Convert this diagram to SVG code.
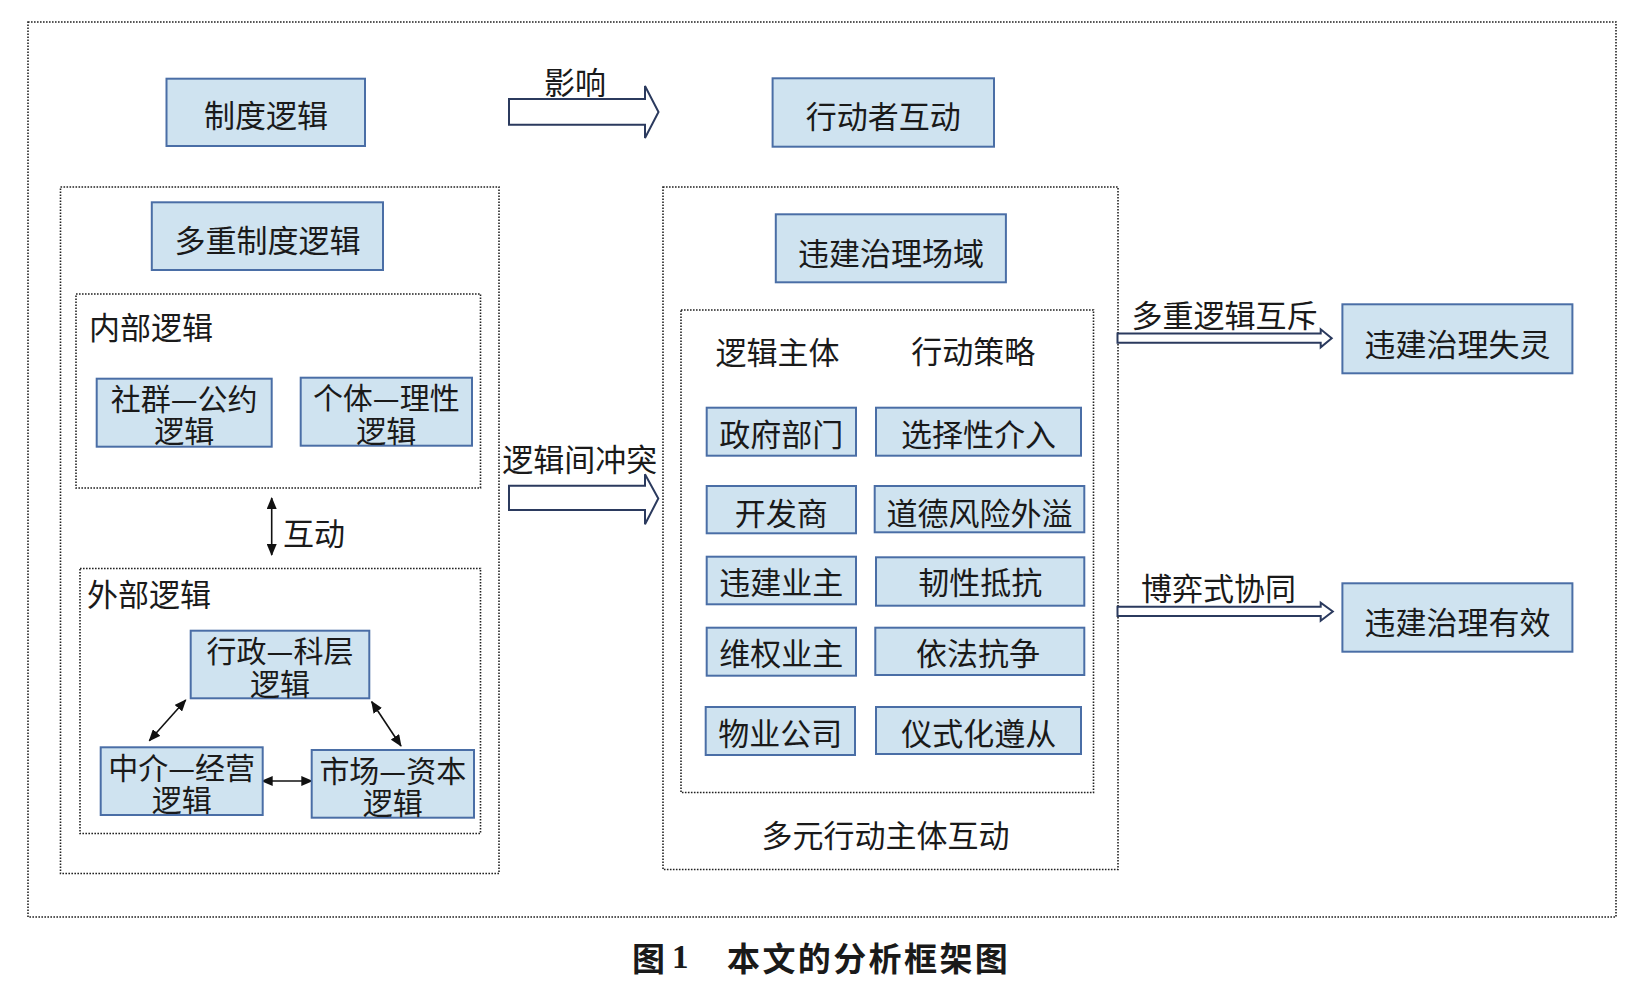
<svg xmlns="http://www.w3.org/2000/svg" width="1640" height="982" viewBox="0 0 1640 982">
<defs>
<style>
.bg{fill:#ffffff}
.dot{fill:none;stroke:#222;stroke-width:1.6;stroke-dasharray:1.6 1.4}
.box{fill:#cfe3f0;stroke:#4a6ea6;stroke-width:2}
.t{font-family:"Noto Sans CJK SC","Noto Sans CJK TC",sans-serif;font-size:31px;fill:#1a1a1a;text-anchor:middle;dominant-baseline:central}
.t2{font-size:30px}
.tl{text-anchor:start}
.blk{fill:#ffffff;stroke:#2b3a5e;stroke-width:2;stroke-linejoin:miter}
.ln{stroke:#111;stroke-width:1.6;fill:none;marker-start:url(#ah);marker-end:url(#ah)}
.title{font-family:"Noto Sans CJK SC",sans-serif;font-size:33px;font-weight:bold;fill:#1a1a1a;dominant-baseline:central}
</style>
<marker id="ah" viewBox="0 0 12 10" refX="11" refY="5" markerWidth="12" markerHeight="10" markerUnits="userSpaceOnUse" orient="auto-start-reverse">
<path d="M0,0 L12,5 L0,10 Z" fill="#111"/>
</marker>
</defs>
<rect class="bg" x="0" y="0" width="1640" height="982"/>

<g id="frames">
<rect class="dot" x="28" y="22" width="1588" height="895"/>
<rect class="dot" x="60.5" y="187" width="438.5" height="686.5"/>
<rect class="dot" x="76" y="294" width="404.5" height="194"/>
<rect class="dot" x="80" y="568.5" width="400.5" height="265"/>
<rect class="dot" x="663" y="187" width="455" height="682.5"/>
<rect class="dot" x="681" y="310" width="412.5" height="482.5"/>
</g>

<g id="labels">
<text class="t" x="575" y="80">影响</text>
<text class="t" x="579.7" y="457.5">逻辑间冲突</text>
<text class="t tl" x="89" y="325">内部逻辑</text>
<text class="t tl" x="283" y="531.5">互动</text>
<text class="t tl" x="87" y="592.5">外部逻辑</text>
<text class="t" x="777.5" y="350">逻辑主体</text>
<text class="t" x="973.3" y="349.5">行动策略</text>
<text class="t" x="885.5" y="833.5">多元行动主体互动</text>
<text class="t" x="1224.5" y="313.5">多重逻辑互斥</text>
<text class="t" x="1218.6" y="586.3">博弈式协同</text>
</g>

<g id="connectors">
<path class="blk" d="M509,99 L645,99 L645,86 L658.5,112 L645,138 L645,124.7 L509,124.7 Z"/>
<path class="blk" d="M509,485.7 L645,485.7 L645,474.3 L658.3,498.5 L645,524.3 L645,510 L509,510 Z"/>
<path class="blk" d="M1117.5,333.5 L1320.7,333.5 L1320.7,329.3 L1331.7,338.2 L1320.7,347.3 L1320.7,342.7 L1117.5,342.7 Z"/>
<path class="blk" d="M1117.5,606.7 L1320.7,606.7 L1320.7,602.7 L1332.8,611.5 L1320.7,620.7 L1320.7,616 L1117.5,616 Z"/>
<line class="ln" x1="271.7" y1="498" x2="271.7" y2="555"/>
<line class="ln" x1="185.7" y1="700" x2="149.3" y2="740.7"/>
<line class="ln" x1="371.7" y1="701.7" x2="401" y2="746"/>
<line class="ln" x1="261.7" y1="781" x2="312.3" y2="781"/>
</g>

<g id="n-zhidu"><rect class="box" x="166.5" y="78.7" width="198.5" height="67.3"/><text class="t" x="266" y="113">制度逻辑</text></g>
<g id="n-xingdongzhe"><rect class="box" x="772.6" y="78.3" width="221.4" height="68.4"/><text class="t" x="883.3" y="114">行动者互动</text></g>
<g id="n-duozhong"><rect class="box" x="151.8" y="202.3" width="231.2" height="67.7"/><text class="t" x="267.4" y="238.5">多重制度逻辑</text></g>
<g id="n-shequn"><rect class="box" x="96.7" y="378.7" width="175" height="68"/><text class="t t2" x="184.2" y="397">社群—公约<tspan x="184.2" dy="32">逻辑</tspan></text></g>
<g id="n-geti"><rect class="box" x="300.7" y="377.7" width="171.3" height="68"/><text class="t t2" x="386.3" y="396">个体—理性<tspan x="386.3" dy="33">逻辑</tspan></text></g>
<g id="n-xingzheng"><rect class="box" x="190.7" y="630.7" width="178.6" height="67.6"/><text class="t t2" x="280" y="649">行政—科层<tspan x="280" dy="33">逻辑</tspan></text></g>
<g id="n-zhongjie"><rect class="box" x="100.7" y="747.3" width="162" height="67.7"/><text class="t t2" x="181.7" y="766">中介—经营<tspan x="181.7" dy="31.5">逻辑</tspan></text></g>
<g id="n-shichang"><rect class="box" x="311.7" y="750" width="162.3" height="67.7"/><text class="t t2" x="392.8" y="769">市场—资本<tspan x="392.8" dy="32">逻辑</tspan></text></g>
<g id="n-changyu"><rect class="box" x="775.8" y="214.3" width="230.1" height="68"/><text class="t" x="890.9" y="251">违建治理场域</text></g>

<g id="n-zhengfu"><rect class="box" x="706.7" y="407.7" width="149.3" height="48"/><text class="t" x="781.3" y="432">政府部门</text></g>
<g id="n-kaifa"><rect class="box" x="706.7" y="486" width="149.3" height="47.3"/><text class="t" x="781.3" y="511">开发商</text></g>
<g id="n-weijian"><rect class="box" x="706.7" y="556.7" width="149.3" height="47.6"/><text class="t" x="781.3" y="580.8">违建业主</text></g>
<g id="n-weiquan"><rect class="box" x="706.7" y="627.7" width="149.3" height="48"/><text class="t" x="781.3" y="651.7">维权业主</text></g>
<g id="n-wuye"><rect class="box" x="705.7" y="707" width="149.3" height="48"/><text class="t" x="780.3" y="731.5">物业公司</text></g>

<g id="n-xuanze"><rect class="box" x="876" y="407.7" width="205" height="48"/><text class="t" x="978.5" y="432">选择性介入</text></g>
<g id="n-daode"><rect class="box" x="874.7" y="486" width="209.6" height="46.3"/><text class="t" x="979.5" y="511">道德风险外溢</text></g>
<g id="n-renxing"><rect class="box" x="876" y="557.3" width="208.3" height="48.4"/><text class="t" x="980.2" y="580.8">韧性抵抗</text></g>
<g id="n-yifa"><rect class="box" x="875.3" y="627.7" width="209" height="47.3"/><text class="t" x="978" y="651.7">依法抗争</text></g>
<g id="n-yishi"><rect class="box" x="876" y="707" width="205" height="47"/><text class="t" x="978.8" y="731.5">仪式化遵从</text></g>

<g id="n-shiling"><rect class="box" x="1342.4" y="304.3" width="230" height="69"/><text class="t" x="1457.4" y="342">违建治理失灵</text></g>
<g id="n-youxiao"><rect class="box" x="1342.4" y="583.3" width="230" height="68.4"/><text class="t" x="1457.4" y="620">违建治理有效</text></g>

<g id="caption">
<text class="title" x="632" y="957">图</text>
<text x="672" y="957" font-family="Liberation Serif, serif" font-size="33" font-weight="bold" fill="#1a1a1a" dominant-baseline="central">1</text>
<text class="title" x="727" y="957" letter-spacing="2.4">本文的分析框架图</text>
</g>
</svg>
